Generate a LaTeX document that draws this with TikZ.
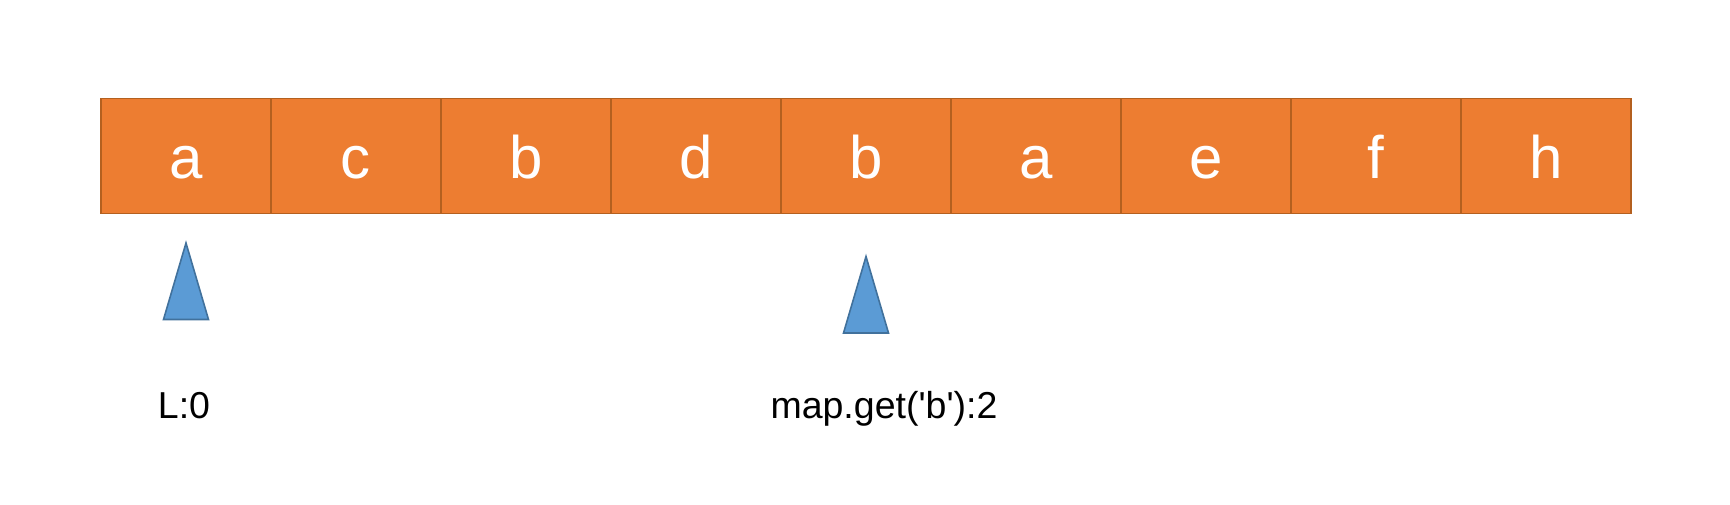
\documentclass[tikz,border=0pt]{standalone}
\usepackage{fontspec}
\setmainfont{Liberation Sans}
\definecolor{cellfill}{HTML}{ED7D31}
\definecolor{celledge}{HTML}{B4601F}
\definecolor{trifill}{HTML}{5B9BD5}
\definecolor{triedge}{HTML}{41719C}
\tikzset{
  cell/.style={draw=celledge, fill=cellfill, line width=1.6pt, minimum width=170pt, minimum height=115pt,
    inner sep=0pt, text=white, font=\fontsize{60}{60}\selectfont, text height=44pt, text depth=0pt},
  pointer/.style={draw=triedge, fill=trifill, line width=1.6pt, line join=miter},
  lbl/.style={anchor=base, inner sep=0pt, font=\fontsize{37.5}{40}\selectfont}
}
\begin{document}
\begin{tikzpicture}[x=1pt,y=-1pt]
\useasboundingbox (0,0) rectangle (1730,504);
\foreach \t [count=\i] in {a,c,b,d,b,a,e,f,h} {
  \node[cell] (c\i) at ({100.7+170*(\i-0.5)},156) {\t};
}
\coordinate (t1a) at (186,243);
\coordinate (t1l) at (163.5,319.5);
\coordinate (t1r) at (208.5,319.5);
\draw[pointer] (t1a) -- (t1r) -- (t1l) -- cycle;
\coordinate (t2a) at (866,256.5);
\coordinate (t2l) at (843.5,333);
\coordinate (t2r) at (888.5,333);
\draw[pointer] (t2a) -- (t2r) -- (t2l) -- cycle;
\node[lbl] (l0) at (184,418) {L:0};
\node[lbl] (l1) at (884,418.5) {map.get(\textquotesingle b\textquotesingle):2};
\end{tikzpicture}
\end{document}
